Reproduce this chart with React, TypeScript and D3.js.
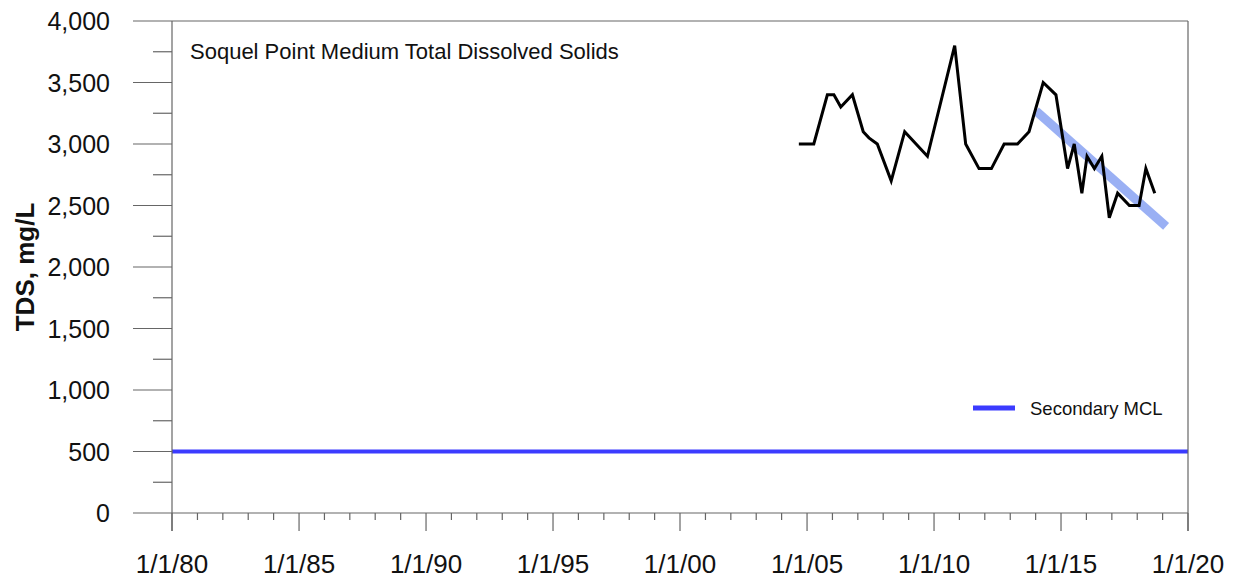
import React from "react";
import * as d3 from "d3";

const sampleDates: string[] = [
  "2004-09-05", "2005-04-08", "2005-10-20", "2006-01-22", "2006-05-01", "2006-10-15",
  "2007-03-20", "2007-06-10", "2007-10-08", "2008-04-25", "2008-11-05", "2009-09-28",
  "2010-10-25", "2011-04-01", "2011-10-10", "2012-04-05", "2012-10-05", "2013-04-15",
  "2013-09-28", "2014-04-20", "2014-10-20", "2015-04-05", "2015-07-10", "2015-10-28",
  "2016-01-10", "2016-04-25", "2016-08-10", "2016-11-25", "2017-03-25", "2017-09-10",
  "2018-01-28", "2018-05-05", "2018-09-10",
];
const tdsValues: number[] = [
  3000, 3000, 3400, 3400, 3300, 3400,
  3100, 3050, 3000, 2700, 3100, 2900,
  3800, 3000, 2800, 2800, 3000, 3000,
  3100, 3500, 3400, 2800, 3000, 2600,
  2900, 2800, 2900, 2400, 2600, 2500,
  2500, 2800, 2600,
];
const trendDates: string[] = ["2014-01-05", "2019-02-20"];
const trendValues: number[] = [3270, 2330];
const mclValue = 500;
const xTickYears: number[] = [1980, 1985, 1990, 1995, 2000, 2005, 2010, 2015, 2020];
const xTickLabels: string[] = ["1/1/80", "1/1/85", "1/1/90", "1/1/95", "1/1/00", "1/1/05", "1/1/10", "1/1/15", "1/1/20"];
const yMajorTicks: number[] = [0, 500, 1000, 1500, 2000, 2500, 3000, 3500, 4000];
const titleText = "Soquel Point Medium Total Dissolved Solids";
const yAxisTitle = "TDS, mg/L";
const legendLabel = "Secondary MCL";

const W = 1242;
const H = 585;
const left = 172;
const right = 1188;
const top = 21;
const bottom = 513;

export default function App() {
  const x = d3.scaleTime()
    .domain([new Date(1980, 0, 1), new Date(2020, 0, 1)])
    .range([left, right]);
  const y = d3.scaleLinear().domain([0, 4000]).range([bottom, top]);
  const parse = (s: string) => new Date(s + "T00:00:00");

  const data = sampleDates.map((d, i) => ({ d: parse(d), v: tdsValues[i] }));
  const trend = trendDates.map((d, i) => ({ d: parse(d), v: trendValues[i] }));
  const line = d3.line<{ d: Date; v: number }>()
    .x((p) => x(p.d))
    .y((p) => y(p.v));

  const minorYears = d3.range(1980, 2021);
  const minorY = d3.range(0, 4001, 250).filter((v) => v % 500 !== 0);
  const axisColor = "#666";
  const tickFont = "Arial, 'Liberation Sans', sans-serif";
  const narrowFont = "'Liberation Sans Narrow', 'Arial Narrow', Arial, sans-serif";

  return (
    <svg width={W} height={H} style={{ position: "absolute", left: 0, top: 0, background: "#fff" }}>
      <rect x={0} y={0} width={W} height={H} fill="#fff" />
      {/* trend line */}
      <path d={line(trend) || ""} fill="none" stroke="rgb(120,150,240)" strokeOpacity={0.75} strokeWidth={9} />
      {/* data line */}
      <path d={line(data) || ""} fill="none" stroke="#000" strokeWidth={3} strokeLinejoin="miter" />
      {/* MCL line */}
      <line x1={x(new Date(1980, 0, 1))} x2={x(new Date(2020, 0, 1))} y1={y(mclValue)} y2={y(mclValue)} stroke="#3b3bff" strokeWidth={4} />

      {/* frame */}
      <line x1={left} x2={left} y1={top} y2={bottom + 18} stroke={axisColor} strokeWidth={1.2} />
      <line x1={right} x2={right} y1={top} y2={bottom + 18} stroke={axisColor} strokeWidth={1.2} />
      <line x1={left} x2={right} y1={top} y2={top} stroke={axisColor} strokeWidth={1.2} />
      <line x1={left} x2={right} y1={bottom} y2={bottom} stroke={axisColor} strokeWidth={1.2} />

      {/* y ticks */}
      {yMajorTicks.map((v) => (
        <g key={"ym" + v}>
          <line x1={left - 39} x2={left} y1={y(v)} y2={y(v)} stroke={axisColor} strokeWidth={1.2} />
          <text x={110} y={y(v) + 9} textAnchor="end" fontFamily={tickFont} fontSize={25} fill="#111">
            {d3.format(",")(v)}
          </text>
        </g>
      ))}
      {minorY.map((v) => (
        <line key={"yn" + v} x1={left - 19} x2={left} y1={y(v)} y2={y(v)} stroke={axisColor} strokeWidth={1.2} />
      ))}

      {/* x ticks */}
      {minorYears.map((yr) => (
        <line key={"xn" + yr} x1={x(new Date(yr, 0, 1))} x2={x(new Date(yr, 0, 1))} y1={bottom} y2={bottom + (yr % 5 === 0 ? 18 : 7)} stroke={axisColor} strokeWidth={1.2} />
      ))}
      {xTickYears.map((yr, i) => (
        <text key={"xl" + yr} x={x(new Date(yr, 0, 1))} y={573} textAnchor="middle" fontFamily={tickFont} fontSize={26} fill="#111">
          {xTickLabels[i]}
        </text>
      ))}

      {/* y axis title */}
      <text transform={`translate(34, 267) rotate(-90)`} textAnchor="middle" fontFamily={tickFont} fontWeight="bold" fontSize={26} fill="#111">
        {yAxisTitle}
      </text>

      {/* chart title */}
      <text x={190} y={59} fontFamily={narrowFont} fontSize={22} fill="#111">
        {titleText}
      </text>

      {/* legend */}
      <line x1={973} x2={1015} y1={408} y2={408} stroke="#3b3bff" strokeWidth={5} />
      <text x={1030} y={415} fontFamily={narrowFont} fontSize={18.5} fill="#111">
        {legendLabel}
      </text>
    </svg>
  );
}
